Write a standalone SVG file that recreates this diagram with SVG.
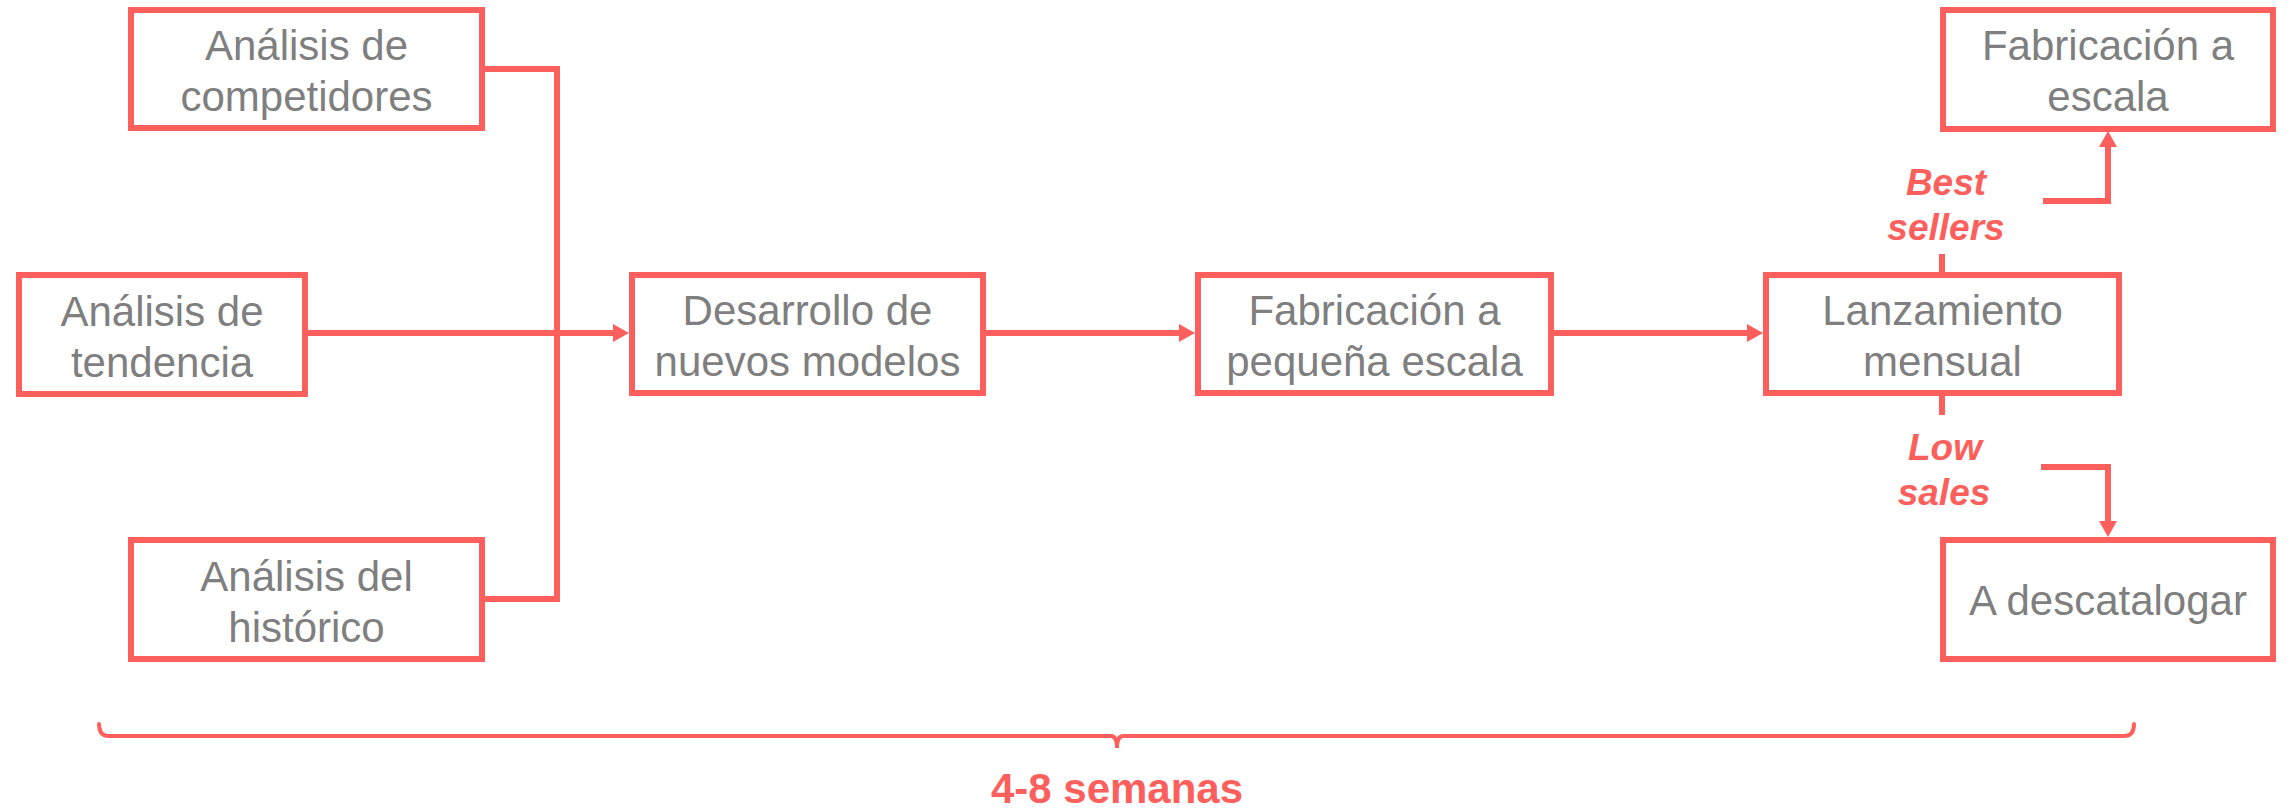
<svg xmlns="http://www.w3.org/2000/svg" width="2292" height="808" viewBox="0 0 2292 808">
<style>
.box{fill:#fff;stroke:#FD5F5C;stroke-width:6}
.t{font-family:"Liberation Sans",Arial,sans-serif;font-size:42px;fill:#7F7F7F;text-anchor:middle}
.c{fill:none;stroke:#FD5F5C;stroke-width:6}
.lbl{font-family:"Liberation Sans",Arial,sans-serif;font-size:37px;font-weight:bold;font-style:italic;fill:#FD5F5C;text-anchor:middle}
.br{fill:none;stroke:#FD5F5C;stroke-width:4;stroke-linecap:round}
.dur{font-family:"Liberation Sans",Arial,sans-serif;font-size:42px;font-weight:bold;fill:#FD5F5C;text-anchor:middle}
</style>
<defs>
<marker id="ah" markerUnits="userSpaceOnUse" markerWidth="16" markerHeight="18" refX="2" refY="9" orient="auto" viewBox="0 0 16 18">
<path d="M0,0 L16,9 L0,18 z" fill="#FD5F5C"/>
</marker>
</defs>
<g id="connectors">
<path class="c" d="M485,69 H557 V599 H485"/>
<path class="c" d="M308,333 H615" marker-end="url(#ah)"/>
<path class="c" d="M986,333 H1181" marker-end="url(#ah)"/>
<path class="c" d="M1554,333 H1749" marker-end="url(#ah)"/>
<path class="c" d="M1942,272 V254"/>
<path class="c" d="M2043,201 H2108 V145" marker-end="url(#ah)"/>
<path class="c" d="M1942,396 V415"/>
<path class="c" d="M2041,467 H2108 V523" marker-end="url(#ah)"/>
</g>
<g id="n-competidores">
<rect class="box" x="131" y="10" width="351" height="118"/>
<text class="t" x="306.5" y="60">Análisis de</text>
<text class="t" x="306.5" y="111">competidores</text>
</g>
<g id="n-tendencia">
<rect class="box" x="19" y="275" width="286" height="119"/>
<text class="t" x="162" y="325.5">Análisis de</text>
<text class="t" x="162" y="376.5">tendencia</text>
</g>
<g id="n-historico">
<rect class="box" x="131" y="540" width="351" height="119"/>
<text class="t" x="306.5" y="590.5">Análisis del</text>
<text class="t" x="306.5" y="641.5">histórico</text>
</g>
<g id="n-desarrollo">
<rect class="box" x="632" y="275" width="351" height="118"/>
<text class="t" x="807.5" y="325">Desarrollo de</text>
<text class="t" x="807.5" y="376">nuevos modelos</text>
</g>
<g id="n-fab-pequena">
<rect class="box" x="1198" y="275" width="353" height="118"/>
<text class="t" x="1374.5" y="325">Fabricación a</text>
<text class="t" x="1374.5" y="376">pequeña escala</text>
</g>
<g id="n-lanzamiento">
<rect class="box" x="1766" y="275" width="353" height="118"/>
<text class="t" x="1942.5" y="325">Lanzamiento</text>
<text class="t" x="1942.5" y="376">mensual</text>
</g>
<g id="n-fab-escala">
<rect class="box" x="1943" y="10" width="330" height="119"/>
<text class="t" x="2108" y="60">Fabricación a</text>
<text class="t" x="2108" y="111">escala</text>
</g>
<g id="n-descatalogar">
<rect class="box" x="1943" y="540" width="330" height="119"/>
<text class="t" x="2108" y="615">A descatalogar</text>
</g>
<g id="labels">
<text class="lbl" x="1946" y="195">Best</text>
<text class="lbl" x="1946" y="240">sellers</text>
<text class="lbl" x="1945" y="460">Low</text>
<text class="lbl" x="1944" y="505">sales</text>
</g>
<g id="bracket">
<path class="br" d="M99,724 Q99,736 109,736 H1111 Q1117,736 1117,748 Q1117,736 1123,736 H2124 Q2134,736 2134,724"/>
<text class="dur" x="1117" y="803">4-8 semanas</text>
</g>
</svg>
